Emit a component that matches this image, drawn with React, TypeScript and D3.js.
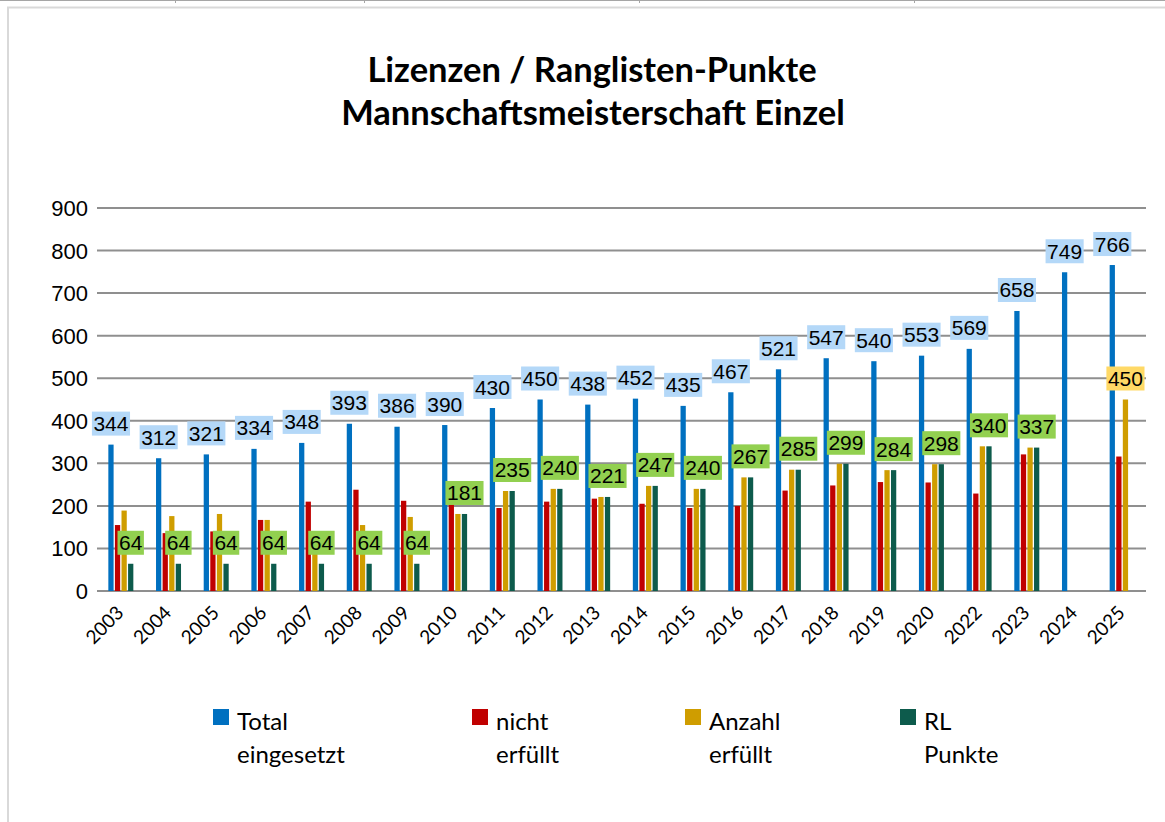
import React from 'react';
import * as d3 from 'd3';

// Lizenzen / Ranglisten-Punkte – grouped bar chart
const years = ['2003', '2004', '2005', '2006', '2007', '2008', '2009', '2010', '2011', '2012', '2013',
  '2014', '2015', '2016', '2017', '2018', '2019', '2020', '2022', '2023', '2024', '2025'];

const totalEingesetzt = [344, 312, 321, 334, 348, 393, 386, 390, 430, 450, 438, 452, 435, 467, 521, 547, 540, 553, 569, 658, 749, 766];
const nichtErfuellt = [155, 136, 140, 167, 210, 238, 212, 209, 195, 210, 217, 205, 195, 200, 236, 248, 256, 255, 229, 321, null, 316];
const anzahlErfuellt = [189, 176, 181, 167, 138, 155, 174, 181, 235, 240, 221, 247, 240, 267, 285, 299, 284, 298, 340, 337, null, 450];
const rlPunkte = [64, 64, 64, 64, 64, 64, 64, 181, 235, 240, 221, 247, 240, 267, 285, 299, 284, 298, 340, 337, null, null];

const yTicks = [0, 100, 200, 300, 400, 500, 600, 700, 800, 900];

const seriesNames = ['Total eingesetzt', 'nicht erfüllt', 'Anzahl erfüllt', 'RL Punkte'];
const seriesValues = [totalEingesetzt, nichtErfuellt, anzahlErfuellt, rlPunkte];
const seriesColors = ['#0070c0', '#c00000', '#cf9d00', '#0d5b4c'];
// which series get value labels, and their box colour
const labelFill: Record<number, string> = { 0: '#b4d8f8', 2: '#ffd966', 3: '#92d050' };
const yellowLabelYears = ['2025'];

const legendLines = [['Total', 'eingesetzt'], ['nicht', 'erfüllt'], ['Anzahl', 'erfüllt'], ['RL', 'Punkte']];
const legendX = [213, 472, 685, 900];

const W = 1165;
const H = 822;

export default function App() {
  const x0 = d3.scaleBand<string>().domain(years).range([97, 1146]).paddingInner(0).paddingOuter(0);
  const groupW = 25;
  const x1 = d3.scaleBand<number>().domain([0, 1, 2, 3]).range([0, groupW]).paddingInner(0.2);
  const y = d3.scaleLinear().domain([0, 900]).range([591, 208]);

  const barX = (i: number, s: number) => (x0(years[i]) || 0) + x0.bandwidth() / 2 - groupW / 2 + (x1(s) || 0);

  const labels: { x: number; y: number; text: string; fill: string }[] = [];
  seriesValues.forEach((vals, s) => {
    if (!(s in labelFill)) return;
    vals.forEach((v, i) => {
      if (v == null) return;
      if (s === 2 && !yellowLabelYears.includes(years[i])) return;
      labels.push({ x: barX(i, s) + x1.bandwidth() / 2, y: y(v) - 21, text: String(v), fill: labelFill[s] });
    });
  });

  const font = 'Lato, "Liberation Sans", sans-serif';
  const arial = '"Liberation Sans", Arial, sans-serif';

  return (
    <svg width={W} height={H} style={{ position: 'absolute', left: 0, top: 0, display: 'block', background: '#fff' }}>
      {/* spreadsheet edge + chart frame */}
      <line x1={0} x2={W} y1={0.5} y2={0.5} stroke="#a6a6a6" strokeWidth={1} />
      {[175, 364, 639, 914].map((tx) => (
        <line key={tx} x1={tx + 0.5} x2={tx + 0.5} y1={0} y2={3} stroke="#a6a6a6" />
      ))}
      <path d={`M8,${H} V7.5 H${W}`} fill="none" stroke="#d9d9d9" strokeWidth={2} />

      {/* title */}
      <text x={592} y={82} textAnchor="middle" fontFamily={font} fontWeight={700} fontSize={34.5} fill="#000">
        Lizenzen / Ranglisten-Punkte
      </text>
      <text x={593} y={125} textAnchor="middle" fontFamily={font} fontWeight={700} fontSize={34.5} fill="#000">
        Mannschaftsmeisterschaft Einzel
      </text>

      {/* grid + y axis */}
      {yTicks.map((t) => (
        <g key={t}>
          <line x1={97} x2={1146} y1={y(t)} y2={y(t)} stroke="#8f8f8f" strokeWidth={2} />
          <text x={88} y={y(t) + 8} textAnchor="end" fontFamily={arial} fontSize={22} fill="#000">{t}</text>
        </g>
      ))}

      {/* bars */}
      {seriesValues.map((vals, s) => (
        <g key={s} fill={seriesColors[s]}>
          {vals.map((v, i) => v == null ? null : (
            <rect key={i} x={barX(i, s)} y={y(v)} width={x1.bandwidth()} height={y(0) - y(v)} />
          ))}
        </g>
      ))}

      {/* value labels */}
      {labels.map((l, i) => {
        const w = l.text.length * 11.7 + 3;
        return (
          <g key={i}>
            <rect x={l.x - w / 2} y={l.y - 12} width={w} height={24} fill={l.fill} />
            <text x={l.x} y={l.y + 7.5} textAnchor="middle" fontFamily={arial} fontSize={21} fill="#000">{l.text}</text>
          </g>
        );
      })}

      {/* x axis labels */}
      {years.map((yr) => {
        const cx = (x0(yr) || 0) + x0.bandwidth() / 2 + 4;
        return (
          <text key={yr} transform={`translate(${cx},614) rotate(-45)`} textAnchor="end" fontFamily={font} fontSize={19} fill="#000">{yr}</text>
        );
      })}

      {/* legend */}
      {seriesNames.map((n, s) => (
        <g key={n}>
          <rect x={legendX[s]} y={709} width={16} height={16} fill={seriesColors[s]} />
          <text x={legendX[s] + 24} y={730} fontFamily={font} fontSize={24} fill="#000">{legendLines[s][0]}</text>
          <text x={legendX[s] + 24} y={763} fontFamily={font} fontSize={24} fill="#000">{legendLines[s][1]}</text>
        </g>
      ))}
    </svg>
  );
}
